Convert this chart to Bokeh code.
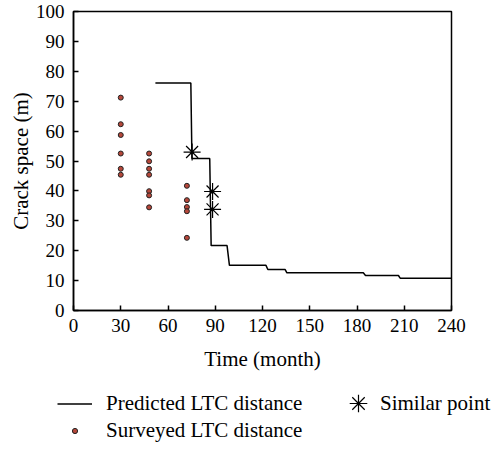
from bokeh.plotting import figure
from bokeh.models import Legend, LegendItem, FixedTicker, Range1d
from bokeh.embed import file_html
from bokeh.resources import INLINE

# Predicted LTC distance (step line)
pred_t = [52, 74.5, 75.2, 86.5, 87.4, 97.5, 99.0, 122.2, 123.4, 134.4, 135.5, 184.0, 185.4, 206.3, 207.4, 240]
pred_d = [76.1, 76.1, 50.8, 50.8, 21.7, 21.7, 15.1, 15.1, 13.7, 13.7, 12.6, 12.6, 11.7, 11.7, 10.8, 10.8]

# Surveyed LTC distance
surv_t = [30, 30, 30, 30, 30, 30,
          48, 48, 48, 48, 48, 48, 48,
          72, 72, 72, 72, 72]
surv_d = [71.2, 62.3, 58.7, 52.5, 47.4, 45.4,
          52.5, 49.9, 47.4, 45.4, 39.9, 38.5, 34.5,
          41.7, 36.9, 34.6, 33.2, 24.3]

# Similar points
sim_t = [75.3, 88.3, 88.3]
sim_d = [53.0, 39.8, 33.8]

x_ticks = [0, 30, 60, 90, 120, 150, 180, 210, 240]
y_ticks = [0, 10, 20, 30, 40, 50, 60, 70, 80, 90, 100]

FONT = "Liberation Serif"
SURV_FILL = "#b5473a"


def draw_series(fig):
    r1 = fig.line(pred_t, pred_d, line_color="black", line_width=1.5)
    r2 = fig.scatter(surv_t, surv_d, marker="circle", size=5, fill_color=SURV_FILL,
                     line_color="#222222", line_width=1)
    r3 = fig.scatter(sim_t, sim_d, marker="asterisk", size=17, line_color="black",
                     line_width=1.2)
    return r1, r2, r3


p = figure(output_backend="svg", toolbar_location=None,
           x_range=Range1d(0, 240), y_range=Range1d(0, 100),
           min_border_left=73, min_border_top=11, min_border_right=49, min_border_bottom=70)
p.frame_width = 378
p.frame_height = 299

p.xgrid.visible = False
p.ygrid.visible = False
p.outline_line_color = "black"
p.outline_line_width = 1.5

for ax in (p.xaxis[0], p.yaxis[0]):
    ax.axis_line_width = 1.5
    ax.axis_line_color = "black"
    ax.major_tick_in = 5
    ax.major_tick_out = 0
    ax.major_tick_line_width = 1.5
    ax.minor_tick_line_color = None
    ax.major_label_text_font = FONT
    ax.major_label_text_font_size = "19px"
    ax.major_label_text_color = "black"
    ax.axis_label_text_font = FONT
    ax.axis_label_text_font_size = "21px"
    ax.axis_label_text_font_style = "normal"
    ax.axis_label_text_color = "black"

p.xaxis.ticker = FixedTicker(ticks=x_ticks)
p.yaxis.ticker = FixedTicker(ticks=y_ticks)
p.xaxis.axis_label = "Time (month)"
p.yaxis.axis_label = "Crack space (m)"
p.xaxis.major_label_standoff = 8
p.yaxis.major_label_standoff = 9
p.xaxis.axis_label_standoff = 12
p.yaxis.axis_label_standoff = 0

draw_series(p)

# Legend panel below the chart (same series, drawn off its visible range)
lg = figure(width=500, height=65, output_backend="svg", toolbar_location=None,
            x_range=Range1d(-1000, -999), y_range=Range1d(-1000, -999),
            x_axis_location=None, y_axis_location=None,
            min_border_left=0, min_border_right=0, min_border_top=0, min_border_bottom=0)
lg.xgrid.visible = False
lg.ygrid.visible = False
lg.outline_line_color = None

d_line, d_surv, d_sim = draw_series(lg)


def style(leg, gw, gh, standoff):
    leg.label_text_font = FONT
    leg.label_text_font_size = "21px"
    leg.label_text_color = "black"
    leg.glyph_width = gw
    leg.glyph_height = gh
    leg.label_height = 19
    leg.label_standoff = standoff
    leg.spacing = 2
    leg.padding = 0
    leg.margin = 0
    leg.border_line_color = None
    leg.background_fill_alpha = 0


leg_a = Legend(items=[
    LegendItem(label="Predicted LTC distance", renderers=[d_line]),
    LegendItem(label="Surveyed LTC distance", renderers=[d_surv]),
], location=(57, 2))
style(leg_a, 35, 13, 14)
leg_b = Legend(items=[
    LegendItem(label="Similar point", renderers=[d_sim]),
], location=(336, 20))
style(leg_b, 44, 44, 0)
lg.add_layout(leg_a, "center")
lg.add_layout(leg_b, "center")

open("out.html", "w").write(file_html([p, lg], INLINE))
